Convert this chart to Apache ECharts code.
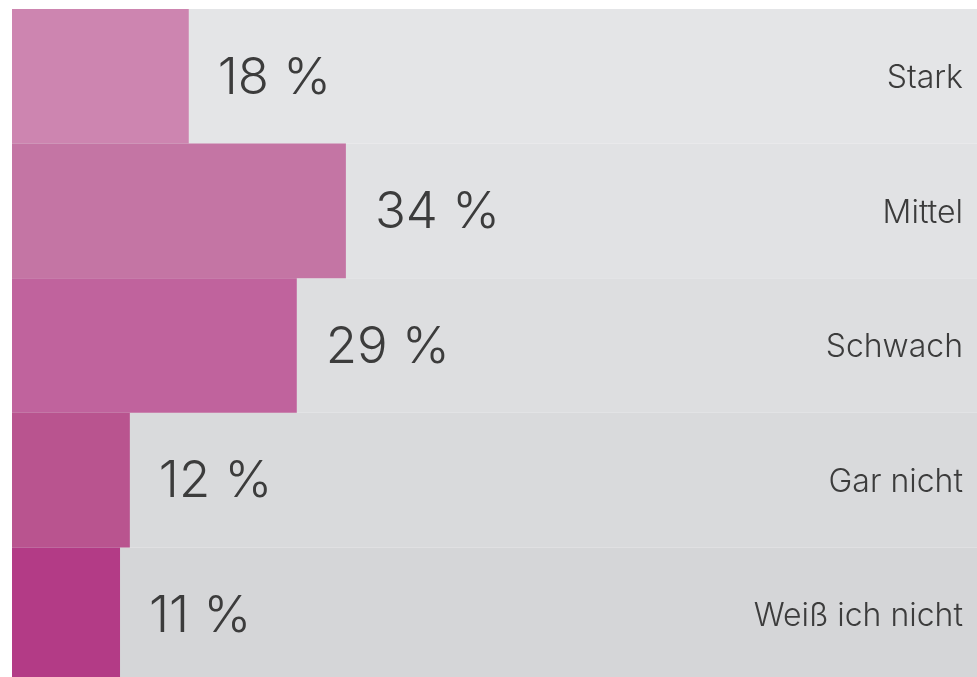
<!DOCTYPE html>
<html>
<head>
<meta charset="utf-8">
<script src="https://cdn.jsdelivr.net/npm/echarts@6/dist/echarts.min.js"></script>
<style>
  html, body { margin: 0; padding: 0; background: #fff; }
  #chart { width: 977px; height: 677px; }
</style>
</head>
<body>
<div id="chart"></div>
<script>
// Daten
const categories = ['Stark', 'Mittel', 'Schwach', 'Gar nicht', 'Weiß ich nicht']
const shares = [18, 34, 29, 12, 11]
const fullScale = [100, 100, 100, 100, 100]

// Farben je Zeile
const barColors = ['#cd85b0', '#c475a4', '#c0639d', '#b9548f', '#b33b86']
const trackColors = ['#e4e5e7', '#e1e2e4', '#dddee0', '#d9dadc', '#d5d6d8']

const textColor = '#3c3c3c'

const myChart = echarts.init(document.getElementById('chart'))

const option = {
  animation: false,
  grid: {
    left: 12,
    top: 9,
    width: 982,
    height: 673,
    containLabel: false,
    outerBoundsMode: 'none'
  },
  xAxis: {
    type: 'value',
    min: 0,
    max: 100,
    show: false
  },
  yAxis: {
    type: 'category',
    data: categories,
    inverse: true,
    show: false
  },
  series: [
    {
      // grauer Hintergrund mit Kategorie rechts
      type: 'bar',
      data: fullScale.map((v, i) => ({ value: v, itemStyle: { color: trackColors[i] } })),
      barWidth: '100%',
      barGap: '-100%',
      silent: true,
      z: 1,
      label: {
        show: true,
        position: 'insideRight',
        distance: 31,
        offset: [0, 2],
        formatter: '{b}',
        color: textColor,
        fontFamily: 'Inter',
        fontWeight: 300,
        fontSize: 32
      }
    },
    {
      type: 'bar',
      data: shares.map((v, i) => ({ value: v, itemStyle: { color: barColors[i] } })),
      barWidth: '100%',
      z: 2,
      label: {
        show: true,
        position: 'right',
        distance: 29,
        offset: [0, 2],
        formatter: '{c} %',
        color: textColor,
        fontFamily: 'Inter',
        fontWeight: 300,
        fontSize: 51
      }
    }
  ]
}

myChart.setOption(option)
</script>
</body>
</html>
